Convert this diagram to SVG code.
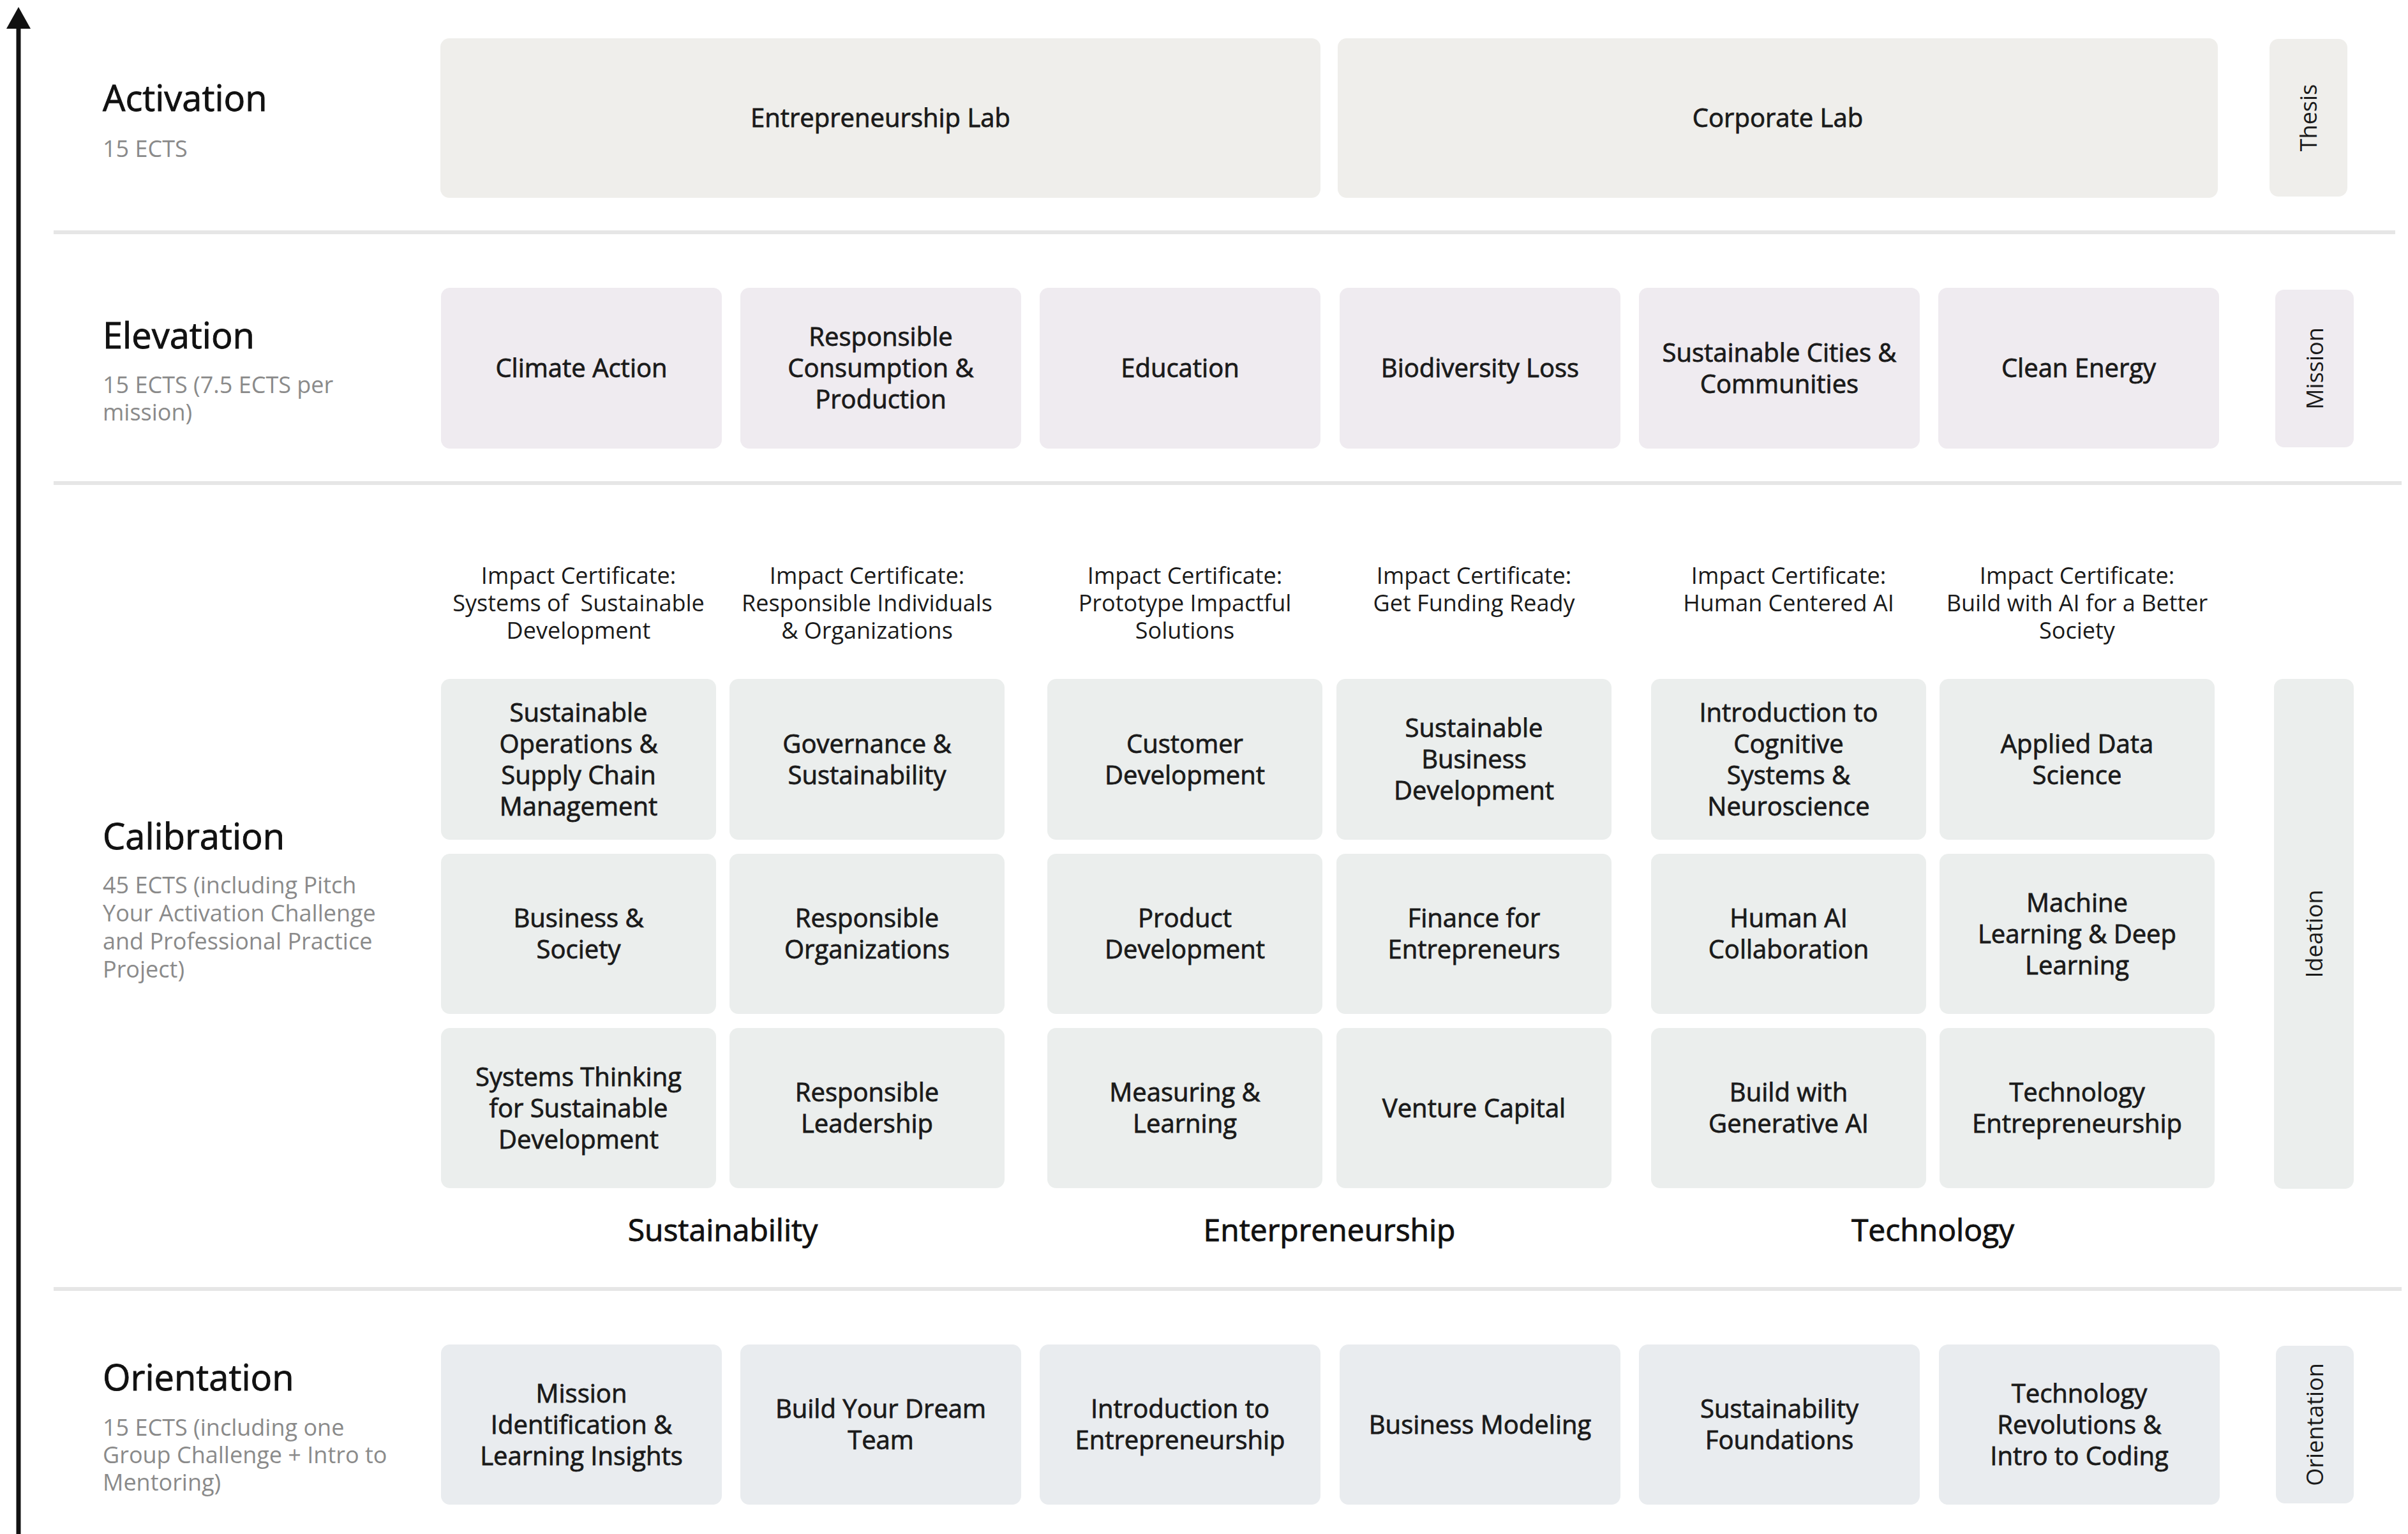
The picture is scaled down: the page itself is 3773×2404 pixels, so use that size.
<svg xmlns="http://www.w3.org/2000/svg" width="3773" height="2404" viewBox="0 0 3773 2404">
<style>
text{font-family:"Open Sans","Noto Sans","Liberation Sans",sans-serif;}
.act{fill:#efeeeb;}
.elev{fill:#efebf0;}
.cal{fill:#ebeeed;}
.ori{fill:#e9ecef;}
.bt{font-size:40px;font-weight:500;fill:#1a1a1a;stroke:#1a1a1a;stroke-width:0.8;text-anchor:middle;}
.side{font-size:36px;fill:#1a1a1a;text-anchor:middle;}
.ttl{font-size:56px;font-weight:500;fill:#111;stroke:#111;stroke-width:0.9;}
.sub{font-size:36px;fill:#8a8a8a;}
.cert{font-size:36px;fill:#1a1a1a;text-anchor:middle;}
.grp{font-size:48px;font-weight:500;fill:#111;stroke:#111;stroke-width:0.9;text-anchor:middle;}
.sep{stroke:#e6e6e6;stroke-width:6;}
</style>
<rect width="3773" height="2404" fill="#ffffff"/>

<g id="axis">
<line x1="29" y1="40" x2="29" y2="2404" stroke="#111" stroke-width="7"/>
<polygon points="29,11 10,45 48,45" fill="#111"/>
</g>

<g id="separators">
<line class="sep" x1="84" y1="364" x2="3753" y2="364"/>
<line class="sep" x1="84" y1="757" x2="3763" y2="757"/>
<line class="sep" x1="84" y1="2020" x2="3763" y2="2020"/>
</g>

<g id="labels">
<text class="ttl" x="161" y="174">Activation</text>
<text class="sub" x="161" y="246">15 ECTS</text>
<text class="ttl" x="161" y="546">Elevation</text>
<text class="sub"><tspan x="161" y="616">15 ECTS (7.5 ECTS per</tspan><tspan x="161" y="659">mission)</tspan></text>
<text class="ttl" x="161" y="1331">Calibration</text>
<text class="sub"><tspan x="161" y="1400">45 ECTS (including Pitch</tspan><tspan x="161" y="1444">Your Activation Challenge</tspan><tspan x="161" y="1488">and Professional Practice</tspan><tspan x="161" y="1532">Project)</tspan></text>
<text class="ttl" x="161" y="2179">Orientation</text>
<text class="sub"><tspan x="161" y="2250">15 ECTS (including one</tspan><tspan x="161" y="2293">Group Challenge + Intro to</tspan><tspan x="161" y="2336">Mentoring)</tspan></text>
</g>

<g id="activation">
<g id="entrepreneurship-lab"><rect class="act" x="690" y="60" width="1379" height="250" rx="14"/><text class="bt" x="1379.5" y="199">Entrepreneurship Lab</text></g>
<g id="corporate-lab"><rect class="act" x="2096" y="60" width="1379" height="250" rx="14"/><text class="bt" x="2785.5" y="199">Corporate Lab</text></g>
<g id="thesis"><rect class="act" x="3556" y="61" width="122" height="247" rx="14"/><text class="side" transform="translate(3617,184.5) rotate(-90)" y="13">Thesis</text></g>
</g>

<g id="elevation">
<g id="climate-action"><rect class="elev" x="691" y="451" width="440" height="252" rx="14"/><text class="bt" x="911" y="591">Climate Action</text></g>
<g id="responsible-consumption"><rect class="elev" x="1160" y="451" width="440" height="252" rx="14"/><text class="bt"><tspan x="1380" y="542">Responsible</tspan><tspan x="1380" y="591">Consumption &amp;</tspan><tspan x="1380" y="640">Production</tspan></text></g>
<g id="education"><rect class="elev" x="1629" y="451" width="440" height="252" rx="14"/><text class="bt" x="1849" y="591">Education</text></g>
<g id="biodiversity-loss"><rect class="elev" x="2099" y="451" width="440" height="252" rx="14"/><text class="bt" x="2319" y="591">Biodiversity Loss</text></g>
<g id="sustainable-cities"><rect class="elev" x="2568" y="451" width="440" height="252" rx="14"/><text class="bt"><tspan x="2788" y="566.5">Sustainable Cities &amp;</tspan><tspan x="2788" y="615.5">Communities</tspan></text></g>
<g id="clean-energy"><rect class="elev" x="3037" y="451" width="440" height="252" rx="14"/><text class="bt" x="3257" y="591">Clean Energy</text></g>
<g id="mission"><rect class="elev" x="3565" y="454" width="123" height="247" rx="14"/><text class="side" transform="translate(3626.5,577.5) rotate(-90)" y="13">Mission</text></g>
</g>

<g id="certificates">
<text class="cert" xml:space="preserve"><tspan x="906.5" y="915">Impact Certificate:</tspan><tspan x="906.5" y="958">Systems of  Sustainable</tspan><tspan x="906.5" y="1001">Development</tspan></text>
<text class="cert"><tspan x="1358.5" y="915">Impact Certificate:</tspan><tspan x="1358.5" y="958">Responsible Individuals</tspan><tspan x="1358.5" y="1001">&amp; Organizations</tspan></text>
<text class="cert"><tspan x="1856.5" y="915">Impact Certificate:</tspan><tspan x="1856.5" y="958">Prototype Impactful</tspan><tspan x="1856.5" y="1001">Solutions</tspan></text>
<text class="cert"><tspan x="2309.5" y="915">Impact Certificate:</tspan><tspan x="2309.5" y="958">Get Funding Ready</tspan></text>
<text class="cert"><tspan x="2802.5" y="915">Impact Certificate:</tspan><tspan x="2802.5" y="958">Human Centered AI</tspan></text>
<text class="cert"><tspan x="3254.5" y="915">Impact Certificate:</tspan><tspan x="3254.5" y="958">Build with AI for a Better</tspan><tspan x="3254.5" y="1001">Society</tspan></text>
</g>

<g id="calibration">
<g id="sustainable-operations"><rect class="cal" x="691" y="1064" width="431" height="252" rx="14"/><text class="bt"><tspan x="906.5" y="1130.5">Sustainable</tspan><tspan x="906.5" y="1179.5">Operations &amp;</tspan><tspan x="906.5" y="1228.5">Supply Chain</tspan><tspan x="906.5" y="1277.5">Management</tspan></text></g>
<g id="business-society"><rect class="cal" x="691" y="1338" width="431" height="251" rx="14"/><text class="bt"><tspan x="906.5" y="1453">Business &amp;</tspan><tspan x="906.5" y="1502">Society</tspan></text></g>
<g id="systems-thinking"><rect class="cal" x="691" y="1611" width="431" height="251" rx="14"/><text class="bt"><tspan x="906.5" y="1701.5">Systems Thinking</tspan><tspan x="906.5" y="1750.5">for Sustainable</tspan><tspan x="906.5" y="1799.5">Development</tspan></text></g>

<g id="governance-sustainability"><rect class="cal" x="1143" y="1064" width="431" height="252" rx="14"/><text class="bt"><tspan x="1358.5" y="1179.5">Governance &amp;</tspan><tspan x="1358.5" y="1228.5">Sustainability</tspan></text></g>
<g id="responsible-organizations"><rect class="cal" x="1143" y="1338" width="431" height="251" rx="14"/><text class="bt"><tspan x="1358.5" y="1453">Responsible</tspan><tspan x="1358.5" y="1502">Organizations</tspan></text></g>
<g id="responsible-leadership"><rect class="cal" x="1143" y="1611" width="431" height="251" rx="14"/><text class="bt"><tspan x="1358.5" y="1726">Responsible</tspan><tspan x="1358.5" y="1775">Leadership</tspan></text></g>

<g id="customer-development"><rect class="cal" x="1641" y="1064" width="431" height="252" rx="14"/><text class="bt"><tspan x="1856.5" y="1179.5">Customer</tspan><tspan x="1856.5" y="1228.5">Development</tspan></text></g>
<g id="product-development"><rect class="cal" x="1641" y="1338" width="431" height="251" rx="14"/><text class="bt"><tspan x="1856.5" y="1453">Product</tspan><tspan x="1856.5" y="1502">Development</tspan></text></g>
<g id="measuring-learning"><rect class="cal" x="1641" y="1611" width="431" height="251" rx="14"/><text class="bt"><tspan x="1856.5" y="1726">Measuring &amp;</tspan><tspan x="1856.5" y="1775">Learning</tspan></text></g>

<g id="sustainable-business-development"><rect class="cal" x="2094" y="1064" width="431" height="252" rx="14"/><text class="bt"><tspan x="2309.5" y="1155">Sustainable</tspan><tspan x="2309.5" y="1204">Business</tspan><tspan x="2309.5" y="1253">Development</tspan></text></g>
<g id="finance-entrepreneurs"><rect class="cal" x="2094" y="1338" width="431" height="251" rx="14"/><text class="bt"><tspan x="2309.5" y="1453">Finance for</tspan><tspan x="2309.5" y="1502">Entrepreneurs</tspan></text></g>
<g id="venture-capital"><rect class="cal" x="2094" y="1611" width="431" height="251" rx="14"/><text class="bt" x="2309.5" y="1750.5">Venture Capital</text></g>

<g id="cognitive-systems"><rect class="cal" x="2587" y="1064" width="431" height="252" rx="14"/><text class="bt"><tspan x="2802.5" y="1130.5">Introduction to</tspan><tspan x="2802.5" y="1179.5">Cognitive</tspan><tspan x="2802.5" y="1228.5">Systems &amp;</tspan><tspan x="2802.5" y="1277.5">Neuroscience</tspan></text></g>
<g id="human-ai-collaboration"><rect class="cal" x="2587" y="1338" width="431" height="251" rx="14"/><text class="bt"><tspan x="2802.5" y="1453">Human AI</tspan><tspan x="2802.5" y="1502">Collaboration</tspan></text></g>
<g id="build-generative-ai"><rect class="cal" x="2587" y="1611" width="431" height="251" rx="14"/><text class="bt"><tspan x="2802.5" y="1726">Build with</tspan><tspan x="2802.5" y="1775">Generative AI</tspan></text></g>

<g id="applied-data-science"><rect class="cal" x="3039" y="1064" width="431" height="252" rx="14"/><text class="bt"><tspan x="3254.5" y="1179.5">Applied Data</tspan><tspan x="3254.5" y="1228.5">Science</tspan></text></g>
<g id="machine-learning"><rect class="cal" x="3039" y="1338" width="431" height="251" rx="14"/><text class="bt"><tspan x="3254.5" y="1428.5">Machine</tspan><tspan x="3254.5" y="1477.5">Learning &amp; Deep</tspan><tspan x="3254.5" y="1526.5">Learning</tspan></text></g>
<g id="technology-entrepreneurship"><rect class="cal" x="3039" y="1611" width="431" height="251" rx="14"/><text class="bt"><tspan x="3254.5" y="1726">Technology</tspan><tspan x="3254.5" y="1775">Entrepreneurship</tspan></text></g>

<g id="ideation"><rect class="cal" x="3563" y="1064" width="125" height="799" rx="14"/><text class="side" transform="translate(3625.5,1463.5) rotate(-90)" y="13">Ideation</text></g>
</g>

<g id="groups">
<text class="grp" x="1132.5" y="1945">Sustainability</text>
<text class="grp" x="2083" y="1945">Enterpreneurship</text>
<text class="grp" x="3028.5" y="1945">Technology</text>
</g>

<g id="orientation">
<g id="mission-identification"><rect class="ori" x="691" y="2107" width="440" height="251" rx="14"/><text class="bt"><tspan x="911" y="2197.5">Mission</tspan><tspan x="911" y="2246.5">Identification &amp;</tspan><tspan x="911" y="2295.5">Learning Insights</tspan></text></g>
<g id="dream-team"><rect class="ori" x="1160" y="2107" width="440" height="251" rx="14"/><text class="bt"><tspan x="1380" y="2222">Build Your Dream</tspan><tspan x="1380" y="2271">Team</tspan></text></g>
<g id="intro-entrepreneurship"><rect class="ori" x="1629" y="2107" width="440" height="251" rx="14"/><text class="bt"><tspan x="1849" y="2222">Introduction to</tspan><tspan x="1849" y="2271">Entrepreneurship</tspan></text></g>
<g id="business-modeling"><rect class="ori" x="2099" y="2107" width="440" height="251" rx="14"/><text class="bt" x="2319" y="2246.5">Business Modeling</text></g>
<g id="sustainability-foundations"><rect class="ori" x="2568" y="2107" width="440" height="251" rx="14"/><text class="bt"><tspan x="2788" y="2222">Sustainability</tspan><tspan x="2788" y="2271">Foundations</tspan></text></g>
<g id="technology-revolutions"><rect class="ori" x="3038" y="2107" width="440" height="251" rx="14"/><text class="bt"><tspan x="3258" y="2197.5">Technology</tspan><tspan x="3258" y="2246.5">Revolutions &amp;</tspan><tspan x="3258" y="2295.5">Intro to Coding</tspan></text></g>
<g id="orientation-side"><rect class="ori" x="3566" y="2109" width="122" height="247" rx="14"/><text class="side" transform="translate(3627,2232.5) rotate(-90)" y="13">Orientation</text></g>
</g>
</svg>
